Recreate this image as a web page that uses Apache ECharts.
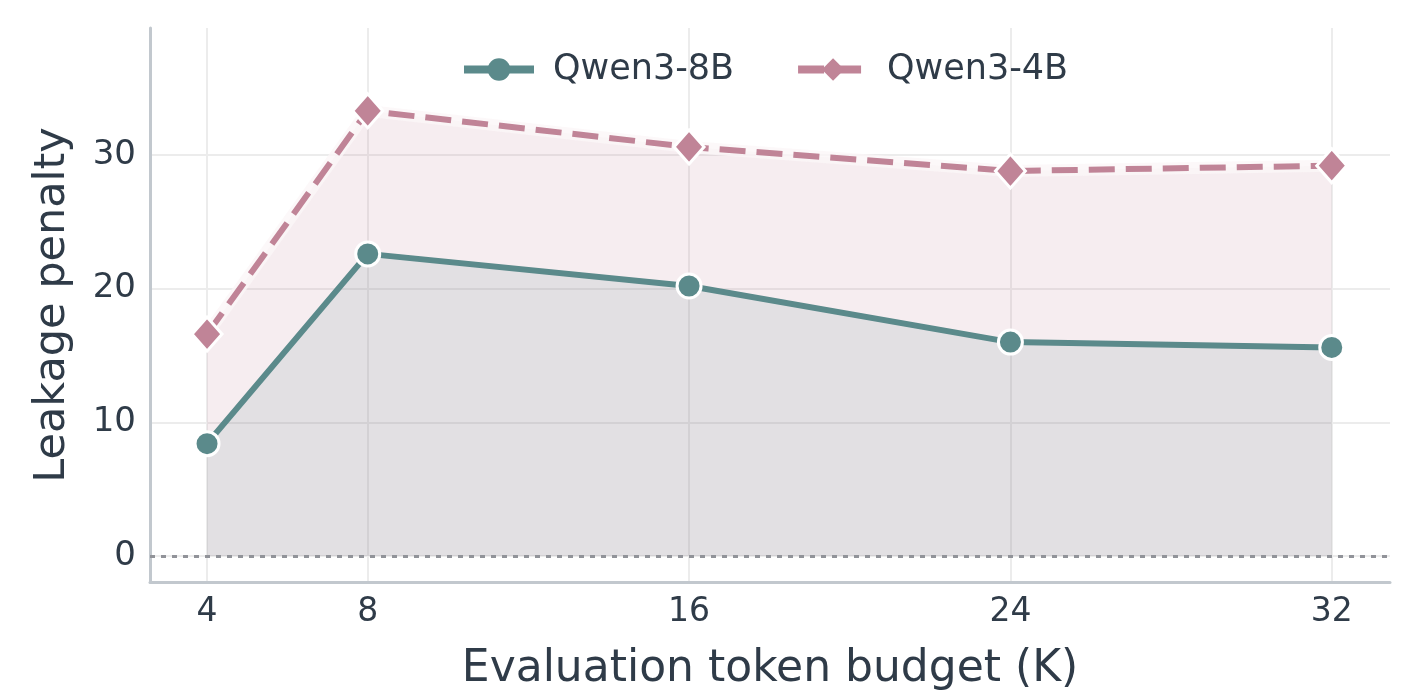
<!DOCTYPE html>
<html>
<head>
<meta charset="utf-8">
<script src="https://cdn.jsdelivr.net/npm/echarts@6/dist/echarts.min.js"></script>
<style>
  html, body { margin: 0; padding: 0; background: #fff; }
  #chart { width: 1419px; height: 694px; }
</style>
</head>
<body>
<div id="chart"></div>
<script>
// token budgets (K) and penalties
const budgets = [4, 8, 16, 24, 32];
const qwen8b = [8.4, 22.6, 20.2, 16.0, 15.6];
const qwen4b = [16.6, 33.3, 30.6, 28.8, 29.2];
const yTicks = [0, 10, 20, 30];

const textColor = '#2f3b48';
const teal = '#5b8a8b';
const pink = '#c08497';

const chart = echarts.init(document.getElementById('chart'));

function pairs(xs, ys) {
    return xs.map(function (x, i) { return [x, ys[i]]; });
}

const option = {
    animation: false,
    textStyle: { fontFamily: 'DejaVu Sans' },
    grid: { left: 150, right: 29, top: 28, bottom: 112, outerBoundsMode: 'none' },
    legend: {
        top: 47,
        left: 455,
        itemWidth: 70,
        itemHeight: 28,
        itemGap: 60,
        data: ['Qwen3-8B', 'Qwen3-4B'],
        lineStyle: { width: 8 },
        itemStyle: { borderWidth: 0 },
        textStyle: { color: textColor, fontSize: 35, fontFamily: 'DejaVu Sans', padding: [0, 0, 0, 14] }
    },
    xAxis: {
        type: 'value',
        min: 2.58,
        max: 33.45,
        name: 'Evaluation token budget (K)',
        nameLocation: 'middle',
        nameGap: 66,
        nameTextStyle: { color: textColor, fontSize: 44 },
        axisLine: { onZero: false, lineStyle: { color: '#c2c8ce', width: 3 } },
        axisTick: { show: false, customValues: budgets },
        axisLabel: { customValues: budgets, color: textColor, fontSize: 33, margin: 14 },
        splitLine: { show: true, lineStyle: { color: '#ececec', width: 2 } }
    },
    yAxis: {
        type: 'value',
        min: -1.95,
        max: 39.5,
        name: 'Leakage penalty',
        nameLocation: 'middle',
        nameGap: 76,
        nameTextStyle: { color: textColor, fontSize: 43 },
        axisLine: { show: true, onZero: false, lineStyle: { color: '#c2c8ce', width: 3 } },
        axisTick: { show: false, customValues: yTicks },
        axisLabel: { customValues: yTicks, color: textColor, fontSize: 34, margin: 14 },
        splitLine: { show: true, lineStyle: { color: '#ececec', width: 2 } }
    },
    series: [
        {
            // pale halo under the dashed line
            name: 'halo',
            type: 'line',
            data: pairs(budgets, qwen4b),
            symbol: 'none',
            silent: true,
            lineStyle: { color: '#fbf6f8', width: 12, opacity: 0.8 },
            z: 3
        },
        {
            name: 'Qwen3-4B',
            type: 'line',
            data: pairs(budgets, qwen4b),
            symbol: 'diamond',
            symbolSize: [30, 34],
            itemStyle: { color: pink, borderColor: '#fff', borderWidth: 3 },
            lineStyle: { color: pink, width: 6, type: [26, 11] },
            areaStyle: { color: pink, opacity: 0.15 },
            markLine: {
                silent: true,
                symbol: 'none',
                label: { show: false },
                lineStyle: { color: '#919399', width: 3, type: [5, 6] },
                data: [{ yAxis: 0 }]
            },
            z: 3
        },
        {
            name: 'Qwen3-8B',
            type: 'line',
            data: pairs(budgets, qwen8b),
            symbol: 'circle',
            symbolSize: 24,
            itemStyle: { color: teal, borderColor: '#fff', borderWidth: 3 },
            lineStyle: { color: teal, width: 6 },
            areaStyle: { color: teal, opacity: 0.13 },
            z: 4
        }
    ]
};

chart.setOption(option);
</script>
</body>
</html>
